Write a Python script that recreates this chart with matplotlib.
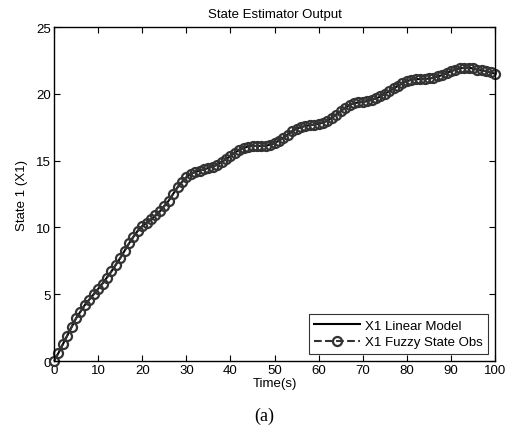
import matplotlib
matplotlib.use("Agg")
import matplotlib.pyplot as plt
import numpy as np

time_s = list(range(0, 101))
x1_values = [
    0.0, 0.6, 1.25, 1.9, 2.55, 3.2, 3.7, 4.2, 4.6, 5.0,
    5.4, 5.8, 6.25, 6.7, 7.2, 7.7, 8.25, 8.8, 9.3, 9.75,
    10.1, 10.35, 10.6, 10.9, 11.2, 11.6, 12.0, 12.5, 13.0, 13.4,
    13.75, 14.0, 14.15, 14.25, 14.35, 14.45, 14.55, 14.7, 14.9, 15.1,
    15.35, 15.6, 15.8, 15.95, 16.05, 16.1, 16.1, 16.1, 16.1, 16.2,
    16.3, 16.5, 16.7, 16.95, 17.2, 17.4, 17.5, 17.6, 17.65, 17.7,
    17.75, 17.85, 18.0, 18.2, 18.45, 18.7, 18.95, 19.15, 19.3, 19.35,
    19.4, 19.45, 19.55, 19.65, 19.8, 20.0, 20.2, 20.4, 20.6, 20.8,
    20.95, 21.05, 21.1, 21.1, 21.1, 21.15, 21.2, 21.3, 21.4, 21.55,
    21.7, 21.8, 21.9, 21.95, 21.95, 21.9, 21.8, 21.75, 21.7, 21.6,
    21.5,
]
linear_model = x1_values
fuzzy_obs = x1_values

x_ticks = [0, 10, 20, 30, 40, 50, 60, 70, 80, 90, 100]
y_ticks = [0, 5, 10, 15, 20, 25]

plt.rcParams['font.family'] = ['Liberation Sans', 'DejaVu Sans']
FS = 9.5

fig = plt.figure(figsize=(5.12, 4.35), dpi=100)
ax = fig.add_axes([0.1055, 0.1678, 0.8615, 0.7678])

ax.plot(time_s, linear_model, '-', color='black', lw=1.5, label='X1 Linear Model')
ax.plot(time_s, fuzzy_obs, '--', color='#333333', lw=1.5, marker='o',
        markersize=6.5, markerfacecolor='none', markeredgewidth=1.6,
        markeredgecolor='#333333', label='X1 Fuzzy State Obs', clip_on=False)

ax.set_xlim(0, 100)
ax.set_ylim(0, 25)
ax.set_xticks(x_ticks)
ax.set_yticks(y_ticks)
ax.tick_params(direction='in', length=4, width=0.8, top=True, right=True,
               labelsize=FS, pad=2)
for s in ax.spines.values():
    s.set_linewidth(1.0)

ax.set_title('State Estimator Output', fontsize=FS, pad=7)
ax.set_ylabel('State 1 (X1)', fontsize=FS, labelpad=6)
ax.set_xlabel('Time(s)', fontsize=FS, labelpad=1)

leg = ax.legend(loc='lower right', fontsize=FS, frameon=True, fancybox=False,
                edgecolor='black', borderaxespad=0.55, handlelength=3.5,
                handletextpad=0.35, borderpad=0.4, labelspacing=0.35)
leg.get_frame().set_linewidth(0.8)

fig.text(0.517, 0.043, '(a)', fontsize=13, family=['Liberation Serif'],
         ha='center', va='center')

fig.savefig('out.png', dpi=100)
